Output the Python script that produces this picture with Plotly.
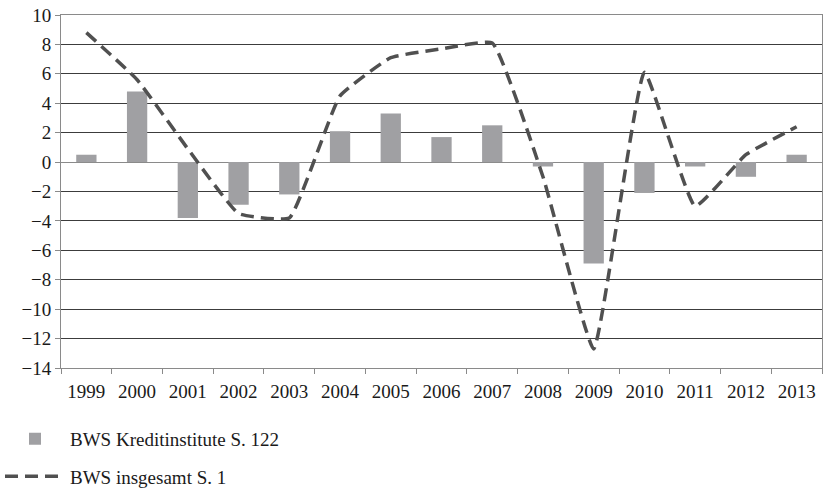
import plotly.graph_objects as go

years = ["1999", "2000", "2001", "2002", "2003", "2004", "2005", "2006",
         "2007", "2008", "2009", "2010", "2011", "2012", "2013"]
bws_kredit = [0.5, 4.8, -3.8, -2.9, -2.2, 2.1, 3.3, 1.7, 2.5, -0.3, -6.9, -2.1, -0.3, -1.0, 0.5]
bws_gesamt = [8.8, 5.6, 0.9, -3.5, -3.8, 4.5, 7.1, 7.7, 8.1, -1.0, -12.7, 6.1, -3.0, 0.5, 2.4]
y_min, y_max, y_step = -14, 10, 2

FONT = "Liberation Serif"
GRID = "#3c3c3c"
AXIS = "#8a8a8a"

fig = go.Figure()
fig.add_trace(go.Bar(
    x=years, y=bws_kredit, name="BWS Kreditinstitute S. 122",
    marker=dict(color="#a0a0a3", line=dict(width=0)),
    legendgroup="a",
))
fig.add_trace(go.Scatter(
    x=years, y=bws_gesamt, name="BWS insgesamt S. 1", mode="lines",
    line=dict(color="#505050", width=3.5, dash="13px,7px", shape="spline", smoothing=0.35),
    legendgroup="b",
))

n = len(years)
fig.update_layout(
    width=823, height=491,
    margin=dict(l=61, r=1, t=15, b=123, autoexpand=False),
    paper_bgcolor="white", plot_bgcolor="white",
    font=dict(family=FONT, size=19, color="#1a1a1a"),
    bargap=0.6,
    showlegend=True,
    legend=dict(
        xref="container", yref="container",
        x=0.0, y=0.145, xanchor="left", yanchor="top",
        orientation="v", traceorder="grouped", tracegroupgap=10,
        font=dict(family=FONT, size=19, color="#1a1a1a"),
        itemwidth=60,
    ),
    xaxis=dict(
        type="category", range=[-0.5, n - 0.5], automargin=False,
        showgrid=False, showline=True, linecolor=AXIS, linewidth=1, mirror=True,
        ticks="outside", tickson="boundaries", ticklen=5, tickcolor=AXIS,
        ticklabelstandoff=6,
        tickfont=dict(family=FONT, size=19, color="#1a1a1a"),
    ),
    xaxis2=dict(
        overlaying="x", anchor="free", automargin=False,
        position=(0 - y_min) / (y_max - y_min),
        range=[-0.5, n - 0.5], showgrid=False, zeroline=False,
        showline=True, linecolor=AXIS, linewidth=1,
        ticks="outside", ticklen=5, tickcolor=AXIS,
        tickmode="array", tickvals=[i + 0.5 for i in range(n - 1)],
        showticklabels=False,
    ),
    yaxis=dict(
        range=[y_min, y_max], dtick=y_step, tick0=0, automargin=False,
        ticklabeloverflow="allow",
        showgrid=True, gridcolor=GRID, gridwidth=1,
        zeroline=True, zerolinecolor=AXIS, zerolinewidth=1,
        showline=True, linecolor=AXIS, linewidth=1, mirror=True,
        ticks="outside", ticklen=5, tickcolor=AXIS,
        tickfont=dict(family=FONT, size=19, color="#1a1a1a"),
    ),
)

fig.write_html("out.html", config={"displayModeBar": False},
               post_script="document.body.style.margin='0';")
